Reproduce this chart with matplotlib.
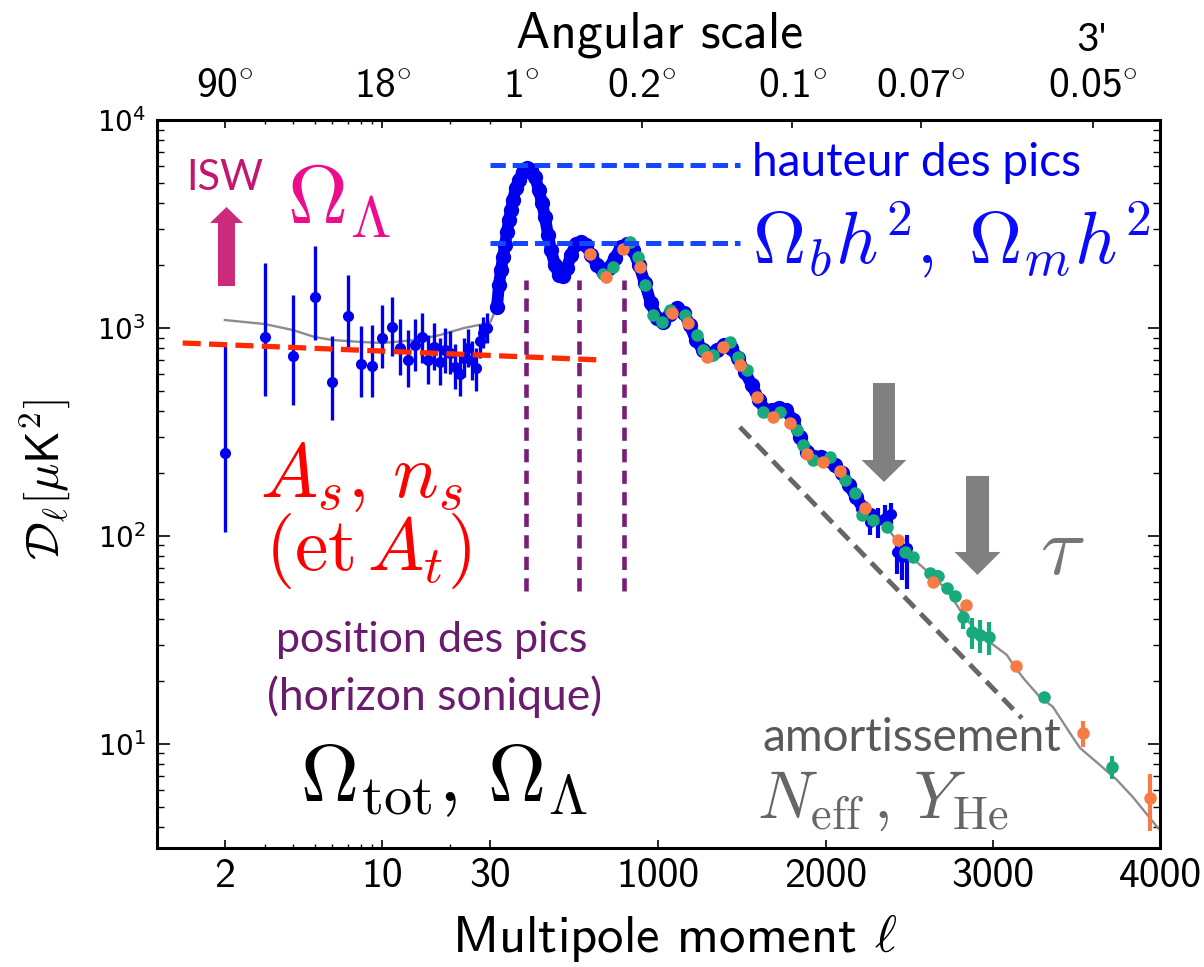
import numpy as np
import matplotlib
matplotlib.use("Agg")
import matplotlib.pyplot as plt
from matplotlib.patches import FancyArrow
from matplotlib.ticker import FixedLocator, NullFormatter

plt.rcParams["mathtext.fontset"] = "cm"
plt.rcParams["lines.scale_dashes"] = False

SANS = ["cmss10", "DejaVu Sans"]
CALI = ["Lato", "DejaVu Sans"]

# ---- low multipoles (one point per ell, with asymmetric errors) ----
LOW_L = [2, 3, 4, 5, 6, 7, 8, 9, 10, 11, 12, 13, 14, 15, 16, 17, 18, 19, 20,
         21, 22, 23, 24, 25, 26, 27, 28, 29]
LOW_D = [250, 906, 733, 1409, 550, 1142, 671, 656, 895, 1011, 801, 700, 828,
         906, 702, 811, 687, 780, 759, 651, 600, 720, 800, 700, 640, 870, 950,
         1000]
LOW_LO = [105, 471, 427, 875, 361, 811, 466, 466, 645, 733, 594, 520, 620,
          680, 540, 630, 530, 610, 600, 510, 470, 580, 650, 560, 500, 720, 800,
          850]
LOW_HI = [819, 2050, 1443, 2477, 916, 1799, 1022, 1033, 1288, 1409, 1104, 978,
          1100, 1180, 930, 1060, 900, 1000, 970, 840, 770, 900, 990, 870, 800,
          1050, 1130, 1180]

# ---- binned high-ell spectrum ----
PLANCK_L = [36, 48, 60, 72, 84, 96, 108, 120, 132, 149, 167, 191, 215, 239,
            263, 287, 305, 323, 341, 359, 383, 406, 430, 454, 478, 508, 538,
            568, 598, 634, 669, 705, 741, 777, 813, 849, 885, 920, 956, 992,
            1028, 1070, 1112, 1154, 1189, 1225, 1267, 1309, 1351, 1393, 1435,
            1476, 1518, 1560, 1602, 1638, 1680, 1721, 1763, 1805, 1847, 1889,
            1931, 1973, 2014, 2056, 2098, 2139, 2182, 2224, 2266]
PLANCK_D = [1262, 1611, 1903, 2194, 2505, 2895, 3306, 3690, 4121, 4707, 5148,
            5624, 5880, 5750, 5324, 4606, 3987, 3419, 2800, 2371, 2009, 1799,
            1778, 1941, 2244, 2535, 2600, 2505, 2244, 2009, 1881, 1941, 2173,
            2449, 2540, 2371, 2009, 1645, 1318, 1117, 1069, 1167, 1247, 1181,
            1033, 875, 784, 750, 784, 828, 801, 717, 614, 532, 451, 404, 404,
            413, 404, 361, 299, 253, 240, 240, 232, 219, 201, 176, 154, 136,
            126]

# last high-ell bins, drawn with error bars
TAIL_L = [2265, 2313, 2355, 2391, 2427, 2457, 2487]
TAIL_D = [117, 119, 122, 127, 83.8, 79.2, 87.5]
TAIL_DN = [16, 21, 17, 18, 18, 18, 32]
TAIL_UP = [13, 17, 19, 17, 14, 16, 14]

# ---- two small-scale experiments ----
ORANGE_L = [592, 687, 789, 891, 1082, 1178, 1291, 1387, 1488, 1590, 1686,
            1787, 1889, 1984, 2086, 2236, 2433, 2642, 2839, 3138, 3539, 3939]
ORANGE_D = [2270, 1758, 2399, 1963, 1181, 1057, 726, 811, 664, 466, 373, 349,
            248, 227, 205, 136, 95.7, 60.1, 46.6, 23.7, 11.3, 5.50]
ORANGE_ERR = [0] * 20 + [1.6, 1.7]

GREEN_L = [669, 729, 831, 879, 920, 968, 1022, 1070, 1160, 1231, 1267, 1327,
           1429, 1476, 1530, 1626, 1727, 1829, 1865, 1925, 2026, 2116, 2176,
           2218, 2283, 2367, 2475, 2522, 2624, 2672, 2726, 2774, 2821, 2875,
           2923, 2977, 3306, 3712]
GREEN_D = [1820, 1963, 2590, 2194, 1611, 1155, 1069, 1222, 1155, 925, 784,
           741, 857, 726, 629, 394, 394, 324, 274, 232, 240, 186, 161, 126,
           119, 110, 83.8, 79.2, 66.4, 64.3, 56.2, 51.5, 40.8, 34.5, 33.4,
           32.7, 16.8, 7.75]
GREEN_ERR = [0] * 26 + [4, 4, 4, 4, 3, 3, 5, 6, 6, 6, 0, 1.0]

# ---- best-fit model (pieces outside the binned range) ----
THEORY_LOW_L = [2, 3, 4, 5, 6, 8, 10, 14, 18, 23, 30]
THEORY_LOW_D = [1092, 1045, 978, 905, 875, 857, 847, 875, 925, 1000, 1060]
THEORY_HIGH_L = [2367, 2475, 2624, 2726, 2821, 2900, 2995, 3084, 3132, 3192,
                 3282, 3359, 3461, 3521, 3640, 3742, 3837, 3987, 4000]
THEORY_HIGH_D = [110, 84, 66, 55, 42, 35, 30.3, 26.8, 23.4, 20.3, 16.8, 15.1,
                 11.3, 9.57, 7.93, 6.71, 5.56, 3.95, 3.85]

# ---- guide lines ----
TILT_L = [1.3, 30, 651]          # primordial tilt
TILT_D = [847, 738, 702]
PEAK_HEIGHTS = [6050, 2564]      # first / second-third peak heights
HEIGHT_SPAN = [30, 1488]
PEAK_L = [210, 527, 796]         # acoustic peak positions
PEAK_SPAN = [54.4, 1702]
DAMP_L = [1488, 3174]            # damping tail envelope
DAMP_D = [334, 13.3]

TOP_L = [2, 10, 180, 900, 1800, 2571, 3600]
TOP_LABELS = ["90", "18", "1", "0.2", "0.1", "0.07", "0.05"]
BOTTOM_L = [2, 10, 30, 1000, 2000, 3000, 4000]

BLUE = "#0000f0"
ORANGE = "#f77b45"
GREEN = "#18a97c"

# hybrid axis: log below ell=30, linear above
SPLIT = 30.0
DECADE = 225.5
SLOPE = 0.1673
OFFSET = 334.0


def ell_to_axis(l):
    l = np.asarray(l, dtype=float)
    lo = DECADE * np.log10(np.clip(l, 1e-6, None))
    hi = OFFSET + SLOPE * l
    return np.where(l <= SPLIT, lo, hi)


def axis_to_ell(u):
    u = np.asarray(u, dtype=float)
    edge = DECADE * np.log10(SPLIT)
    lo = 10 ** (np.clip(u, None, edge) / DECADE)
    hi = np.clip((u - OFFSET) / SLOPE, SPLIT, None)
    return np.where(u <= edge, lo, hi)


fig = plt.figure(figsize=(12.04, 9.67), dpi=100)
ax = fig.add_axes([0.1304, 0.1231, 0.8331, 0.7528])
ax.set_xscale("function", functions=(ell_to_axis, axis_to_ell))
ax.set_yscale("log")
ax.set_xlim(1, 4000)
ax.set_ylim(10 ** 0.5, 1e4)

# model curve under everything
theory_l = THEORY_LOW_L + PLANCK_L + THEORY_HIGH_L
theory_d = THEORY_LOW_D + PLANCK_D + THEORY_HIGH_D
ax.plot(theory_l, theory_d, color="#8c8c8c", lw=1.7, zorder=2)

# data
low_d = np.array(LOW_D)
ax.errorbar(LOW_L, LOW_D, yerr=[low_d - np.array(LOW_LO), np.array(LOW_HI) - low_d],
            fmt="o", color=BLUE, ms=7, elinewidth=2.4, capsize=0, zorder=3)
ax.plot(PLANCK_L, PLANCK_D, color=BLUE, lw=8.5, marker="o", ms=10,
        solid_capstyle="round", zorder=3)
ax.errorbar(TAIL_L, TAIL_D, yerr=[TAIL_DN, TAIL_UP], fmt="o", color=BLUE,
            ms=7, elinewidth=3, capsize=0, zorder=3)
ax.errorbar(GREEN_L, GREEN_D, yerr=GREEN_ERR, fmt="o", color=GREEN, ms=8,
            elinewidth=3, capsize=0, zorder=4)
ax.errorbar(ORANGE_L, ORANGE_D, yerr=ORANGE_ERR, fmt="o", color=ORANGE, ms=8,
            elinewidth=3, capsize=0, zorder=5)

# guide lines
ax.plot(TILT_L, TILT_D, color="#ff2a00", lw=3.8, dashes=(13, 6), zorder=6)
for h in PEAK_HEIGHTS:
    ax.plot(HEIGHT_SPAN, [h, h], color="#1446ff", lw=3.6, dashes=(11, 5), zorder=6)
for l in PEAK_L:
    ax.plot([l, l], PEAK_SPAN, color="#781e78", lw=3.3, dashes=(9.5, 6), zorder=6)
ax.plot(DAMP_L, DAMP_D, color="#666666", lw=3.5, dashes=(11, 6), zorder=6)

# bottom axis
ax.set_xticks(BOTTOM_L, labels=[str(v) for v in BOTTOM_L], fontfamily=SANS,
              fontsize=30)
ax.xaxis.set_minor_locator(FixedLocator([3, 4, 5, 6, 7, 8, 9, 20]))
ax.xaxis.set_minor_formatter(NullFormatter())
ax.tick_params(axis="x", which="major", direction="in", length=6, width=1.2,
               pad=7, top=False)
ax.tick_params(axis="x", which="minor", direction="in", length=3, width=1.0,
               top=False)
ax.tick_params(axis="y", which="major", direction="in", length=9, width=1.2,
               pad=8, labelsize=20, right=True)
ax.tick_params(axis="y", which="minor", direction="in", length=5, width=1.0,
               right=True)
for s in ax.spines.values():
    s.set_linewidth(2.2)

# angular scale on top
top = ax.twiny()
top.set_xscale("function", functions=(ell_to_axis, axis_to_ell))
top.set_xlim(ax.get_xlim())
top.set_xticks(TOP_L, labels=[s + r"$\!^\circ$" for s in TOP_LABELS],
               fontfamily=SANS, fontsize=30)
top.xaxis.set_minor_locator(FixedLocator([3, 4, 5, 6, 7, 8, 9, 20, 30]))
top.xaxis.set_minor_formatter(NullFormatter())
top.tick_params(axis="x", which="major", direction="in", length=6, width=1.2,
                pad=10)
top.tick_params(axis="x", which="minor", direction="in", length=3, width=1.0)

fig.text(0.5482, 0.9638, "Angular scale", family=SANS, fontsize=37,
         ha="center", va="center")
fig.text(0.907, 0.9586, "3'", family=CALI, fontsize=28, ha="center", va="center")
fig.text(0.5606, 0.0300, r"Multipole moment $\ell$", family=SANS, fontsize=38,
         ha="center", va="center")
fig.text(0.0374, 0.5036, r"$\mathcal{D}_\ell[\mu\mathsf{K}^2]$", fontsize=34,
         rotation=90, ha="center", va="center")

# annotations
fig.text(0.1869, 0.8159, "ISW", family=CALI, fontsize=30, color="#c0186e",
         ha="center", va="center")
fig.text(0.2384, 0.7932, r"$\Omega_\Lambda$", fontsize=60, color="#ec0c8c",
         ha="left", va="center")
fig.text(0.6246, 0.8314, "hauteur des pics", family=CALI, fontsize=33,
         color="#0000ee", ha="left", va="center")
fig.text(0.6246, 0.7518, r"$\Omega_b h^2,\; \Omega_m h^2$", fontsize=53,
         color="#0a0aff", ha="left", va="center")
fig.text(0.2159, 0.5067, r"$A_s,\, n_s$", fontsize=55, color="#ff0000",
         ha="left", va="center")
fig.text(0.2201, 0.4302, r"$(\mathrm{et}\,A_t)$", fontsize=54, color="#ff0000",
         ha="left", va="center")
fig.text(0.3588, 0.3382, "position des pics", family=CALI, fontsize=31,
         color="#6a1b6e", ha="center", va="center")
fig.text(0.3613, 0.2792, "(horizon sonique)", family=CALI, fontsize=32,
         color="#6a1b6e", ha="center", va="center")
fig.text(0.2492, 0.1934, r"$\Omega_{\mathrm{tot}},\, \Omega_\Lambda$", fontsize=58,
         color="black", ha="left", va="center")
fig.text(0.8638, 0.4312, r"$\tau$", fontsize=60, color="#777777",
         ha="left", va="center")
fig.text(0.6329, 0.2368, "amortissement", family=CALI, fontsize=33,
         color="#595959", ha="left", va="center")
fig.text(0.6287, 0.1727, r"$N_{\mathrm{eff}}\,,\, Y_{\mathrm{He}}$", fontsize=48,
         color="#666666", ha="left", va="center")

# arrows
fig.add_artist(FancyArrow(0.1881, 0.7042, 0, 0.0817, width=0.01412,
                          head_width=0.0274, head_length=0.01655,
                          length_includes_head=True, color="#cc2a7a", lw=0,
                          transform=fig.transFigure))
fig.add_artist(FancyArrow(0.7342, 0.6039, 0, -0.1023, width=0.01827,
                          head_width=0.03738, head_length=0.02275,
                          length_includes_head=True, color="#808080", lw=0,
                          transform=fig.transFigure))
fig.add_artist(FancyArrow(0.8119, 0.5078, 0, -0.1024, width=0.0191,
                          head_width=0.0382, head_length=0.0238,
                          length_includes_head=True, color="#808080", lw=0,
                          transform=fig.transFigure))

fig.savefig("out.png", dpi=100)
